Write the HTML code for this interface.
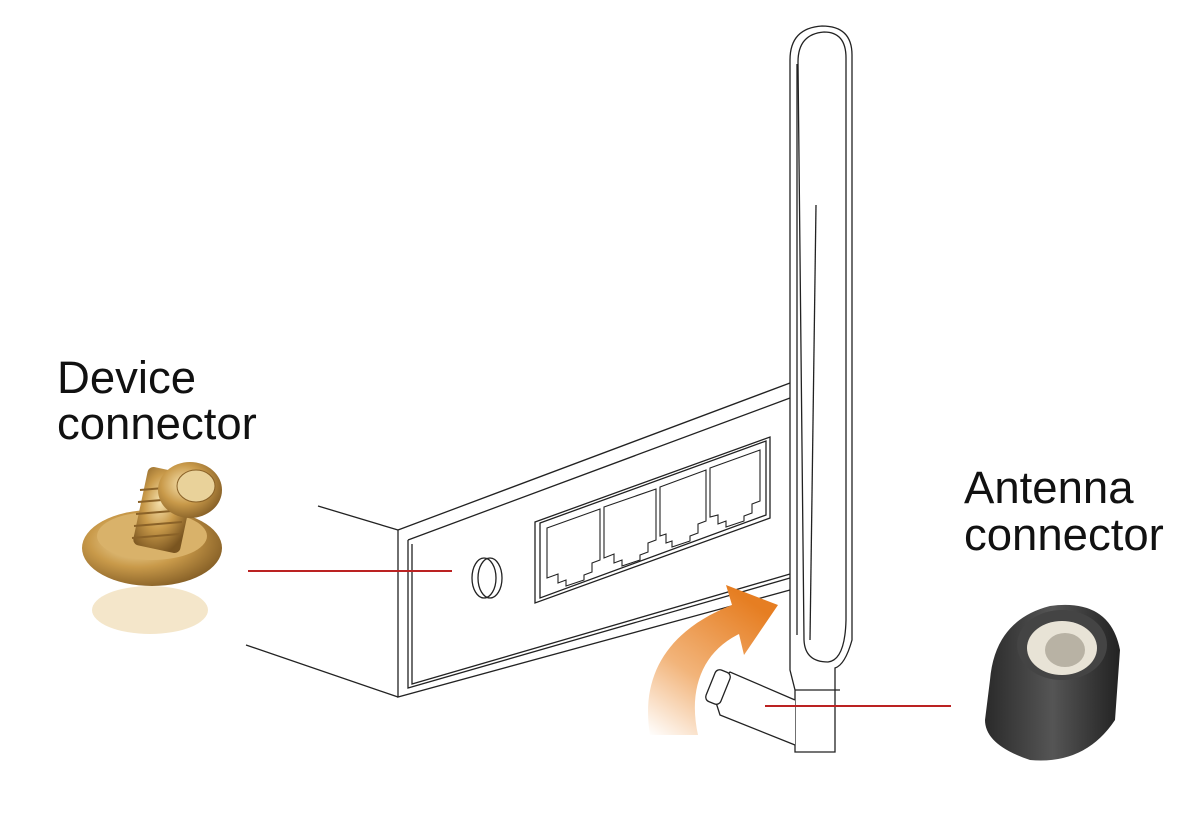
<!DOCTYPE html>
<html><head><style>
html,body{margin:0;padding:0;background:#fff;}
svg{display:block}
text{font-family:"Liberation Sans",sans-serif;fill:#111}
</style></head><body>
<svg width="1200" height="827" viewBox="0 0 1200 827" xmlns="http://www.w3.org/2000/svg">
<defs>
<linearGradient id="arr" x1="0" y1="1" x2="0.6" y2="0">
<stop offset="0" stop-color="#fff"/><stop offset="0.45" stop-color="#f2b47a"/><stop offset="1" stop-color="#e67e22"/>
</linearGradient>
<radialGradient id="gold" cx="0.4" cy="0.4" r="0.7">
<stop offset="0" stop-color="#f7e3b0"/><stop offset="0.5" stop-color="#c99a4a"/><stop offset="1" stop-color="#7a5520"/>
</radialGradient>
<linearGradient id="nut" x1="0" y1="0" x2="1" y2="0">
<stop offset="0" stop-color="#2a2a2a"/><stop offset="0.5" stop-color="#555"/><stop offset="1" stop-color="#222"/>
</linearGradient>
</defs>
<g fill="none" stroke="#222" stroke-width="1.3">
<line x1="318" y1="506" x2="398" y2="530"/>
<line x1="246" y1="645" x2="398" y2="697"/>
<path d="M398 530 L790 383 M398 530 L398 697 L790 590"/>
<path d="M408 540 L790 398 M408 540 L408 688 L790 578"/>
<path d="M412 544 L412 684 L790 574"/>
<path d="M535 522 L770 437 L770 518 L535 603 Z"/>
<path d="M540 523 L766 441 L766 515 L540 598 Z"/>
<g stroke-width="1.1">
<path d="M547 528 L600 509 L600 560 L592 563 L592 572 L584 575 L584 580 L566 586 L566 580 L558 583 L558 574 L547 578 Z"/>
<path d="M604 507 L656 489 L656 540 L648 543 L648 552 L640 555 L640 560 L622 566 L622 560 L614 563 L614 554 L604 558 Z"/>
<path d="M660 487 L706 470 L706 521 L698 524 L698 533 L690 536 L690 541 L672 547 L672 541 L666 543 L666 534 L660 536 Z"/>
<path d="M710 468 L760 450 L760 501 L752 504 L752 513 L744 516 L744 521 L726 527 L726 521 L718 524 L718 515 L710 517 Z"/>
</g>
<ellipse cx="484" cy="578" rx="12" ry="20"/>
<ellipse cx="490" cy="578" rx="12" ry="20"/>
</g>
<path d="M650 735 C640 675 668 630 732 605 L726 585 L778 605 L744 655 L739 634 C702 652 688 690 698 735 Z" fill="url(#arr)"/>
<g fill="#fff" stroke="#222" stroke-width="1.3">
<path d="M790 60 Q790 28 822 26 Q852 26 852 55 L852 640 Q845 665 835 668 L835 752 L795 752 L795 690 L790 670 Z"/>
<path d="M798 62 Q798 34 824 32 Q846 32 846 58 L846 620 Q845 660 828 662 Q805 662 804 640 Z" fill="none"/>
<line x1="797" y1="64" x2="797" y2="635"/>
<path d="M816 205 L810 640" fill="none"/>
<line x1="795" y1="690" x2="840" y2="690"/>
<path d="M795 700 L730 672 L712 690 L720 715 L795 745" />
<rect x="710" y="670" width="16" height="34" rx="5" transform="rotate(22 718 687)"/>
</g>
<g stroke="#b22" stroke-width="2">
<line x1="248" y1="571" x2="452" y2="571"/>
<line x1="765" y1="706" x2="951" y2="706"/>
</g>
<g>
<ellipse cx="150" cy="610" rx="58" ry="24" fill="#ecd6a6" opacity="0.6"/>
<ellipse cx="152" cy="548" rx="70" ry="38" fill="url(#gold)"/>
<ellipse cx="152" cy="536" rx="55" ry="24" fill="#d9b26a"/>
<rect x="140" y="470" width="48" height="80" rx="6" fill="url(#gold)" transform="rotate(12 164 510)"/>
<g stroke="#8a6228" stroke-width="2">
<line x1="140" y1="490" x2="188" y2="486"/><line x1="138" y1="502" x2="186" y2="498"/>
<line x1="136" y1="514" x2="184" y2="510"/><line x1="134" y1="526" x2="182" y2="522"/>
<line x1="132" y1="538" x2="180" y2="534"/>
</g>
<ellipse cx="190" cy="490" rx="32" ry="28" fill="url(#gold)"/>
<ellipse cx="196" cy="486" rx="19" ry="16" fill="#e9d29a" stroke="#8a6228"/>
</g>
<g>
<path d="M990 680 Q995 620 1050 606 Q1110 598 1120 650 L1115 720 Q1085 765 1030 760 Q985 745 985 720 Z" fill="url(#nut)"/>
<ellipse cx="1062" cy="645" rx="45" ry="35" fill="#444"/>
<ellipse cx="1062" cy="648" rx="35" ry="27" fill="#e8e3d6"/>
<ellipse cx="1065" cy="650" rx="20" ry="17" fill="#b8b2a4"/>
</g>
<text x="57" y="393" font-size="45.5">Device</text>
<text x="57" y="439" font-size="45.5">connector</text>
<text x="964" y="503" font-size="45.5">Antenna</text>
<text x="964" y="550" font-size="45.5">connector</text>
</svg>
</body></html>
